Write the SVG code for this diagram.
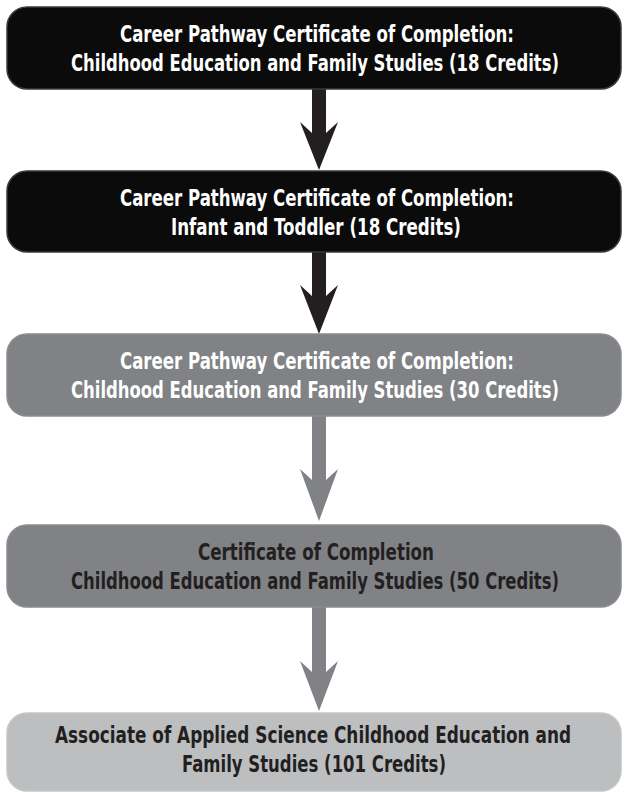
<svg xmlns="http://www.w3.org/2000/svg" width="624" height="792" viewBox="0 0 624 792">
<style>
.box{stroke-width:1.5}
.dark{fill:#0b0b0b;stroke:#3a3a3a}
.mid{fill:#808285;stroke:#8a8c8f}
.light{fill:#bcbec0;stroke:#c4c6c8}
.t{font-family:"Liberation Sans Narrow","DejaVu Sans Condensed","Liberation Sans",sans-serif;font-weight:bold;font-size:18.5px;text-anchor:middle}
.w{fill:#ffffff}
.k{fill:#231f20}
.ab{fill:#231f20}
.ag{fill:#808285}
</style>
<rect width="624" height="792" fill="#ffffff"/>
<g id="connectors">
<path class="ab" d="M312,89 H326 V133 L338,122 L319,170 L300,122 L312,133 Z"/>
<path class="ab" d="M312,252 H326 V296 L338,285 L319,334 L300,285 L312,296 Z"/>
<path class="ag" d="M312,416 H326 V480 L338,469 L319,521 L300,469 L312,480 Z"/>
<path class="ag" d="M312,607 H326 V672 L338,661 L319,711 L300,661 L312,672 Z"/>
</g>
<g id="node1">
<rect class="box dark" x="7" y="7" width="614" height="82" rx="20"/>
<text class="t w" transform="translate(0,42) scale(1,1.22)" x="317" y="0" textLength="394" lengthAdjust="spacingAndGlyphs">Career Pathway Certificate of Completion:</text>
<text class="t w" transform="translate(0,71) scale(1,1.22)" x="315" y="0" textLength="488" lengthAdjust="spacingAndGlyphs">Childhood Education and Family Studies (18 Credits)</text>
</g>
<g id="node2">
<rect class="box dark" x="7" y="171" width="614" height="81" rx="20"/>
<text class="t w" transform="translate(0,206) scale(1,1.22)" x="317" y="0" textLength="394" lengthAdjust="spacingAndGlyphs">Career Pathway Certificate of Completion:</text>
<text class="t w" transform="translate(0,235) scale(1,1.22)" x="316" y="0" textLength="290" lengthAdjust="spacingAndGlyphs">Infant and Toddler (18 Credits)</text>
</g>
<g id="node3">
<rect class="box mid" x="7" y="334" width="614" height="82" rx="20"/>
<text class="t w" transform="translate(0,369) scale(1,1.22)" x="317" y="0" textLength="394" lengthAdjust="spacingAndGlyphs">Career Pathway Certificate of Completion:</text>
<text class="t w" transform="translate(0,398) scale(1,1.22)" x="315" y="0" textLength="488" lengthAdjust="spacingAndGlyphs">Childhood Education and Family Studies (30 Credits)</text>
</g>
<g id="node4">
<rect class="box mid" x="7" y="525" width="614" height="82" rx="20"/>
<text class="t k" transform="translate(0,560) scale(1,1.22)" x="316" y="0" textLength="236" lengthAdjust="spacingAndGlyphs">Certificate of Completion</text>
<text class="t k" transform="translate(0,589) scale(1,1.22)" x="315" y="0" textLength="488" lengthAdjust="spacingAndGlyphs">Childhood Education and Family Studies (50 Credits)</text>
</g>
<g id="node5">
<rect class="box light" x="7" y="713" width="614" height="78" rx="20"/>
<text class="t k" transform="translate(0,743) scale(1,1.22)" x="313" y="0" textLength="516" lengthAdjust="spacingAndGlyphs">Associate of Applied Science Childhood Education and</text>
<text class="t k" transform="translate(0,772) scale(1,1.22)" x="314" y="0" textLength="264" lengthAdjust="spacingAndGlyphs">Family Studies (101 Credits)</text>
</g>
</svg>
